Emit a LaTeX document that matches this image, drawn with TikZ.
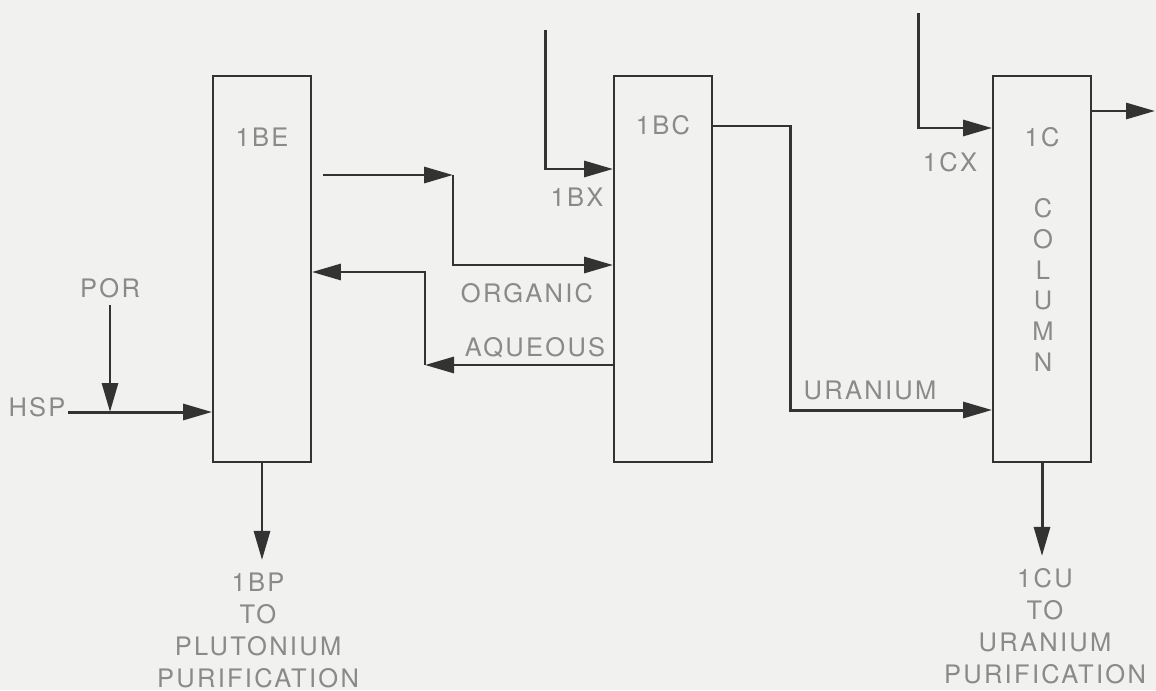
\documentclass[tikz,border=0pt]{standalone}
\usepackage{fontspec}
\setmainfont[LetterSpace=9]{TeX Gyre Heros}
\usetikzlibrary{positioning,arrows.meta}
\definecolor{paper}{HTML}{F1F1EF}
\definecolor{ink}{HTML}{333333}
\definecolor{faded}{HTML}{8A8A8A}

\begin{document}
\begin{tikzpicture}[x=0.02cm, y=-0.02cm, >={Triangle[length=5.8mm,width=3.2mm]},
    font=\fontsize{14.5}{16}\selectfont,
    unit/.style={draw=ink, line width=1.1pt, minimum width=1.96cm, minimum height=7.72cm, inner sep=0pt},
    flow/.style={draw=ink, line width=1.7pt, ->},
    tag/.style={text=faded, inner sep=1pt}]
  \fill[paper] (0,0) rectangle (1156,690);
  \useasboundingbox (0,0) rectangle (1156,690);
  % the three columns
  \node[unit] (be) at (262,269) {};
  \node[unit] (bc) at (663,269) {};
  \node[unit] (col) at (1042,269) {};
  \node[tag] (betag) at (262,137) {1BE};
  \node[tag] (bctag) at (663,125) {1BC};
  \node[tag] (coltag) at (1042,137) {1C};
  \node[tag, align=center, font=\fontsize{14.5}{17.6}\selectfont] (colword) at (1043,285) {C\\O\\L\\U\\M\\N};

  % feeds into 1BE
  \coordinate (porin) at (110,305);
  \coordinate (hspin) at (68,412);
  \node[tag] (por) at (110,288) {POR};
  \node[tag] (hsp) at (37,407) {HSP};
  \draw[flow] (porin) -- (porin |- hspin);
  \draw[flow] (hspin) -- (be.west |- hspin);

  % organic to 1BC, aqueous back to 1BE
  \coordinate (orgout) at (323,175);
  \coordinate (orgbend) at (453,175);
  \draw[flow] (orgout) -- (orgbend);
  \draw[flow] (orgbend) |- (bc.west |- 0,265);
  \coordinate (aqbend) at (425,365);
  \draw[flow] (bc.west |- aqbend) -- (aqbend);
  \draw[flow] (aqbend) |- (be.east |- 0,272);
  \node[tag] (organic) at (527,293) {ORGANIC};
  \node[tag] (aqueous) at (535,348) {AQUEOUS};

  % scrub feed 1BX
  \coordinate (bxin) at (545,30);
  \draw[flow] (bxin) |- (bc.west |- 0,169);
  \node[tag] (bx) at (577,197) {1BX};

  % uranium over to 1C
  \coordinate (ubend) at (790,410);
  \draw[flow] (bc.east |- 0,126) -| (ubend) -- (col.west |- ubend);
  \node[tag] (uranium) at (870,390) {URANIUM};

  % strip feed 1CX and column overhead
  \coordinate (cxin) at (918,13);
  \draw[flow] (cxin) |- (col.west |- 0,128);
  \node[tag] (cx) at (950,162) {1CX};
  \coordinate (colout) at (1155,111);
  \draw[flow] (col.east |- colout) -- (colout);

  % products
  \draw[flow] (be.south) -- ++(0,97) coordinate (bpend);
  \draw[flow] (col.south) -- ++(0,93) coordinate (cuend);
  \node[tag, align=center, font=\fontsize{14.5}{18.2}\selectfont] (bp) at (258,630)
    {1BP\\TO\\PLUTONIUM\\PURIFICATION};
  \node[tag, align=center, font=\fontsize{14.5}{18.2}\selectfont] (cu) at (1045,626)
    {1CU\\TO\\URANIUM\\PURIFICATION};
\end{tikzpicture}
\end{document}
